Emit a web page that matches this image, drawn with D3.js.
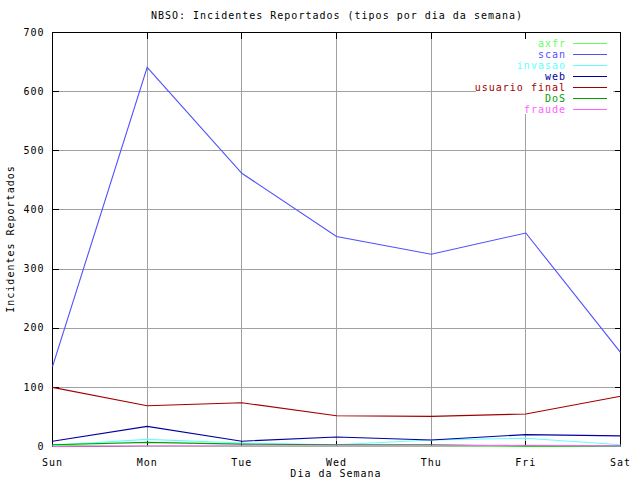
<!DOCTYPE html>
<html><head><meta charset="utf-8">
<script src="https://cdn.jsdelivr.net/npm/d3@7"></script>
<style>body{margin:0;background:#fff}svg text{font-family:"DejaVu Sans Mono",monospace;font-size:10px;letter-spacing:1px}</style>
</head><body><svg id="c" width="640" height="480"></svg>
<script>
const days = ["Sun","Mon","Tue","Wed","Thu","Fri","Sat"];
const yTicks = [0,100,200,300,400,500,600,700];
const seriesNames = ["axfr","scan","invasao","web","usuario final","DoS","fraude"];
const axfr = [2,0,0,0,0,0,0];
const scan = [135,641,462,355,325,361,159];
const invasao = [2,12,6,3,11,14,3];
const web = [9,34,9,16,11,20,18];
const usuario = [100,69,74,52,51,55,85];
const dos = [3,7,4,3,3,1,1];
const fraude = [0,1,1,1,1,2,1];
const colors = ["#60ff60","#5050ff","#60ffff","#0000a0","#a00000","#00a000","#ff60ff"];
const allSeries = [axfr,scan,invasao,web,usuario,dos,fraude];

(function(){
const svg = d3.select("#c");
const L=52,R=620,T=32,B=446;
const x = d3.scalePoint().domain(days).range([L,R]);
const y = d3.scaleLinear().domain([0,700]).range([B,T]);

// grid
const g = svg.append("g").attr("shape-rendering","crispEdges");
g.selectAll(".vg").data(days).enter().append("line")
 .attr("x1",d=>x(d)+0.5).attr("x2",d=>x(d)+0.5).attr("y1",T).attr("y2",B).attr("stroke","#a0a0a0");
g.selectAll(".hg").data(yTicks).enter().append("line")
 .attr("x1",L).attr("x2",R).attr("y1",d=>y(d)+0.5).attr("y2",d=>y(d)+0.5).attr("stroke","#a0a0a0");
// legend background
svg.append("rect").attr("x",476).attr("y",36).attr("width",137).attr("height",78).attr("fill","#fff");

// axes with ticks
const ax = svg.append("g").attr("shape-rendering","crispEdges");
const axLeft = d3.axisLeft(y).tickValues(yTicks).tickSize(-6).tickPadding(8).tickFormat(d3.format("d"));
ax.append("g").attr("transform",`translate(${L+0.5},0)`).call(axLeft);
const axRight = d3.axisRight(y).tickValues(yTicks).tickSize(-6).tickFormat("");
ax.append("g").attr("transform",`translate(${R+0.5},0)`).call(axRight);
const axBottom = d3.axisBottom(x).tickSize(-6).tickPadding(12);
ax.append("g").attr("transform",`translate(0,${B+0.5})`).call(axBottom);
const axTop = d3.axisTop(x).tickSize(-6).tickFormat("");
ax.append("g").attr("transform",`translate(0,${T+0.5})`).call(axTop);
ax.selectAll(".tick line").attr("stroke","#000");
ax.selectAll("text").attr("fill","#000").style("font-family","DejaVu Sans Mono").style("font-size","10px");
ax.selectAll("path.domain").remove();
svg.append("rect").attr("x",L+0.5).attr("y",T+0.5).attr("width",R-L).attr("height",B-T)
 .attr("fill","none").attr("stroke","#000").attr("shape-rendering","crispEdges");

// lines
const line = d3.line().x((d,i)=>x(days[i])+0.5).y(d=>y(d)+0.5);
allSeries.forEach((s,k)=>{
  svg.append("path").datum(s).attr("d",line).attr("fill","none").attr("stroke",colors[k]).attr("stroke-width",1.1);
});

// legend
seriesNames.forEach((n,k)=>{
  const yy = 43 + k*11;
  svg.append("text").attr("x",566).attr("y",yy+4).attr("text-anchor","end").attr("fill",colors[k]).text(n);
  svg.append("line").attr("x1",573).attr("x2",607).attr("y1",yy+0.5).attr("y2",yy+0.5).attr("stroke",colors[k]).attr("stroke-width",1.2).attr("shape-rendering","crispEdges");
});

// titles
svg.append("text").attr("x",337).attr("y",19).attr("text-anchor","middle").attr("fill","#000").text("NBSO: Incidentes Reportados (tipos por dia da semana)");
svg.append("text").attr("x",336).attr("y",477).attr("text-anchor","middle").attr("fill","#000").text("Dia da Semana");
svg.append("text").attr("transform","translate(14,239) rotate(-90)").attr("text-anchor","middle").attr("fill","#000").text("Incidentes Reportados");
})();
</script></body></html>
